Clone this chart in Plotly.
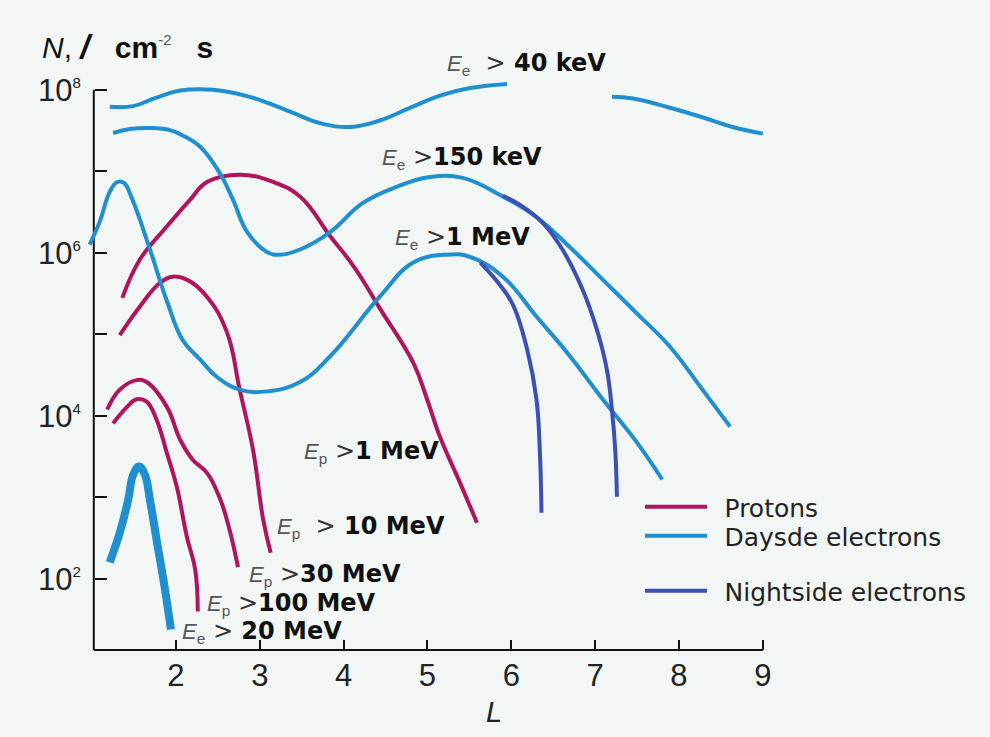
import plotly.graph_objects as go

# ---------------- data: McIlwain L and integral flux N (cm^-2 s^-1) ----------------
# Daytime electrons, Ee > 40 keV (curve broken where the label sits)
e40_L = [1.21, 1.49, 1.75, 2.05, 2.44, 2.88, 3.36, 3.72, 4.08, 4.43, 4.79, 5.15, 5.51, 5.95,
         None, 7.20, 7.45, 7.85, 8.25, 8.64, 9.0]
e40_N = [6.2e7, 6.3e7, 7.9e7, 9.8e7, 1.0e8, 8.2e7, 5.4e7, 3.9e7, 3.5e7, 4.2e7, 6.0e7, 8.5e7, 1.05e8, 1.18e8,
         None, 8.2e7, 7.8e7, 6.2e7, 4.7e7, 3.5e7, 2.9e7]

# Daytime electrons, Ee > 150 keV
e150_L = [1.25, 1.45, 1.69, 1.93, 2.11, 2.29, 2.52, 2.68, 2.85, 3.09, 3.24, 3.48, 3.84, 4.23, 4.64,
          5.03, 5.42, 5.90, 6.30, 6.70, 7.09, 7.50, 7.89, 8.28, 8.61]
e150_N = [2.95e7, 3.3e7, 3.4e7, 3.2e7, 2.65e7, 2.0e7, 9.6e6, 4.5e6, 1.8e6, 1.02e6, 9.5e5, 1.1e6, 1.8e6, 4.1e6, 6.5e6,
          8.5e6, 8.3e6, 4.9e6, 2.75e6, 1.17e6, 4.7e5, 1.8e5, 7.1e4, 2.1e4, 7.4e3]

# Daytime electrons, Ee > 1 MeV
e1_L = [0.97, 1.09, 1.21, 1.30, 1.38, 1.48, 1.69, 1.89, 2.08, 2.29, 2.49, 2.76, 3.09, 3.48, 3.84,
        4.43, 4.83, 5.23, 5.51, 5.90, 6.30, 6.70, 7.09, 7.50, 7.80]
e1_N = [1.26e6, 2.4e6, 5.6e6, 7.4e6, 7.2e6, 4.5e6, 1.1e6, 2.6e5, 8.5e4, 4.9e4, 3.0e4, 2.1e4, 2.0e4, 2.6e4, 5.4e4,
        2.9e5, 7.6e5, 9.5e5, 8.9e5, 5.1e5, 1.66e5, 5.4e4, 1.6e4, 4.7e3, 1.66e3]

# Electrons, Ee > 20 MeV
e20_L = [1.21, 1.33, 1.43, 1.49, 1.56, 1.63, 1.69, 1.77, 1.86, 1.94]
e20_N = [1.6e2, 3.7e2, 9.3e2, 1.9e3, 2.4e3, 1.9e3, 9.3e2, 3.0e2, 85, 24]

# Nightside electrons, Ee > 150 keV and Ee > 1 MeV
n150_L = [5.90, 6.10, 6.38, 6.61, 6.85, 7.02, 7.14, 7.20, 7.24, 7.26]
n150_N = [5.0e6, 3.9e6, 2.3e6, 1.1e6, 3.55e5, 1.15e5, 3.7e4, 1.2e4, 3.8e3, 1.02e3]
n1_L = [5.63, 5.86, 6.02, 6.19, 6.30, 6.34, 6.36]
n1_N = [7.6e5, 4.1e5, 2.3e5, 6.5e4, 1.6e4, 3.8e3, 6.5e2]

# Protons
p1_L = [1.36, 1.57, 1.89, 2.17, 2.37, 2.76, 3.16, 3.48, 3.84, 4.13, 4.43, 4.83, 4.99, 5.15, 5.39, 5.59]
p1_N = [2.8e5, 8.3e5, 2.1e6, 4.5e6, 7.4e6, 9.1e6, 7.4e6, 4.9e6, 1.6e6, 6.6e5, 2.1e5, 4.5e4, 1.66e4, 5.5e3,
        1.5e3, 4.9e2]
p10_L = [1.33, 1.57, 1.81, 1.96, 2.13, 2.37, 2.61, 2.76, 2.92, 3.04, 3.13]
p10_N = [9.8e4, 2.2e5, 4.3e5, 5.1e5, 4.7e5, 2.9e5, 1.05e5, 2.1e4, 3.8e3, 5.4e2, 2.1e2]
p30_L = [1.18, 1.33, 1.53, 1.65, 1.89, 2.05, 2.20, 2.37, 2.52, 2.64, 2.74]
p30_N = [1.2e4, 2.1e4, 2.75e4, 2.6e4, 1.3e4, 5.1e3, 2.9e3, 2.0e3, 1.0e3, 4.0e2, 1.4e2]
p100_L = [1.25, 1.42, 1.53, 1.65, 1.77, 1.89, 2.01, 2.13, 2.23, 2.26]
p100_N = [8.1e3, 1.3e4, 1.6e4, 1.5e4, 8.9e3, 3.55e3, 1.35e3, 3.3e2, 1.3e2, 40]

# Axis ticks
L_TICKS = [2, 3, 4, 5, 6, 7, 8, 9]
N_TICKS = [1e2, 1e3, 1e4, 1e5, 1e6, 1e7, 1e8]
SUP = "<sup><span style='font-size:15px'>{}</span></sup>"
N_TICKTEXT = ["10" + SUP.format(2), "", "10" + SUP.format(4), "",
              "10" + SUP.format(6), "", "10" + SUP.format(8)]

# ---------------- styling ----------------
BG = "#f2f7f5"
PROTON = "#b0145c"
DAY = "#1f8fcf"
NIGHT = "#3a50b6"
LW = 4

fig = go.Figure()


def add_curve(L, N, color, width, name=None, legend="legend", showlegend=False):
    fig.add_trace(go.Scatter(
        x=L, y=N, mode="lines",
        line=dict(color=color, width=width, shape="spline", smoothing=1.2),
        name=name, legend=legend, showlegend=showlegend,
        hoverinfo="x+y",
    ))


add_curve(p1_L, p1_N, PROTON, LW, "\u2002Protons", "legend", True)
add_curve(p10_L, p10_N, PROTON, LW)
add_curve(p30_L, p30_N, PROTON, LW)
add_curve(p100_L, p100_N, PROTON, LW)
add_curve(e40_L, e40_N, DAY, LW, "\u2002Daysde electrons", "legend2", True)
add_curve(e150_L, e150_N, DAY, LW)
add_curve(e1_L, e1_N, DAY, LW)
add_curve(e20_L, e20_N, DAY, 8)
add_curve(n150_L, n150_N, NIGHT, LW, "\u2002Nightside electrons", "legend3", True)
add_curve(n1_L, n1_N, NIGHT, LW)

X_MIN, X_MAX = 0.939, 9.05
Y_MIN, Y_MAX = 1.129, 8.12   # log10 of the flux range
AXIS_L = 1.02                # where the vertical axis stands
PLOT_W, PLOT_H = 680, 570


def px_x(px):
    return (px - 87) / PLOT_W


def px_y(py):
    return (650 - py) / PLOT_H


tickfont = dict(family="Liberation Sans", size=31, color="#222")

fig.update_layout(
    width=990, height=737,
    margin=dict(l=87, r=223, t=80, b=87),
    paper_bgcolor=BG, plot_bgcolor=BG,
    showlegend=True,
    xaxis=dict(range=[X_MIN, X_MAX], showgrid=False, zeroline=False, showline=False,
               tickvals=L_TICKS, ticks="inside", ticklen=10, tickwidth=2, tickcolor="#111",
               tickfont=tickfont, ticklabelstandoff=4),
    yaxis=dict(type="log", range=[Y_MIN, Y_MAX], showgrid=False, zeroline=False, showline=False,
               anchor="free", position=(AXIS_L - X_MIN) / (X_MAX - X_MIN),
               tickvals=N_TICKS, ticktext=N_TICKTEXT, ticks="inside", ticklen=12, tickwidth=2,
               tickcolor="#111", tickfont=tickfont, ticklabelstandoff=13),
    font=dict(family="DejaVu Sans", color="#111"),
)

legend_common = dict(xanchor="left", yanchor="middle", bgcolor="rgba(0,0,0,0)",
                     font=dict(family="DejaVu Sans", size=25, color="#222"), itemwidth=62)
fig.update_layout(
    legend=dict(x=px_x(640), y=px_y(507), **legend_common),
    legend2=dict(x=px_x(640), y=px_y(536), **legend_common),
    legend3=dict(x=px_x(640), y=px_y(591), **legend_common),
)

# axis lines
fig.add_shape(type="line", xref="x", yref="paper", x0=AXIS_L, x1=9.0, y0=0, y1=0,
              line=dict(color="#111", width=2), layer="below")
fig.add_shape(type="line", xref="x", yref="paper", x0=AXIS_L, x1=AXIS_L, y0=0,
              y1=(8.0 - Y_MIN) / (Y_MAX - Y_MIN),
              line=dict(color="#111", width=2), layer="below")


def e_label(sub, value, L, py, gap=" "):
    text = ("<span style='font-family:Liberation Sans;font-size:22px;color:#555'><i>E</i>"
            "<sub>" + sub + "</sub></span>" + gap +
            "<span style='color:#333'>&gt;</span><b>" + value + "</b>")
    fig.add_annotation(x=L, y=px_y(py), xref="x", yref="paper", text=text, showarrow=False,
                       xanchor="left", yanchor="middle",
                       font=dict(family="DejaVu Sans", size=24, color="#111"))


e_label("e", " 40 keV", 5.21, 64, gap="\u00a0\u00a0")
e_label("e", "150 keV", 4.43, 158)
e_label("e", "1 MeV", 4.59, 238)
e_label("p", "1 MeV", 3.50, 452)
e_label("p", " 10 MeV", 3.18, 527, gap="\u00a0\u00a0")
e_label("p", "30 MeV", 2.85, 575)
e_label("p", "100 MeV", 2.35, 604)
e_label("e", " 20 MeV", 2.05, 632)

# axis titles
fig.add_annotation(x=px_x(40), y=px_y(46), xref="paper", yref="paper",
                   text="<i>N</i>,\u00a0<b style='font-size:34px'><i>/</i></b>\u00a0\u00a0\u00a0<b>cm</b>"
                        "<sup><span style='font-size:15px;color:#555'>-2</span></sup>"
                        "\u00a0\u00a0\u00a0<b>s</b>",
                   showarrow=False, xanchor="left", yanchor="middle",
                   font=dict(family="Liberation Sans", size=30, color="#111"))
fig.add_annotation(x=5.79, y=px_y(712), xref="x", yref="paper",
                   text="<i>L</i>", showarrow=False, xanchor="center", yanchor="middle",
                   font=dict(family="Liberation Sans", size=29, color="#222"))

fig.write_html("out.html")
